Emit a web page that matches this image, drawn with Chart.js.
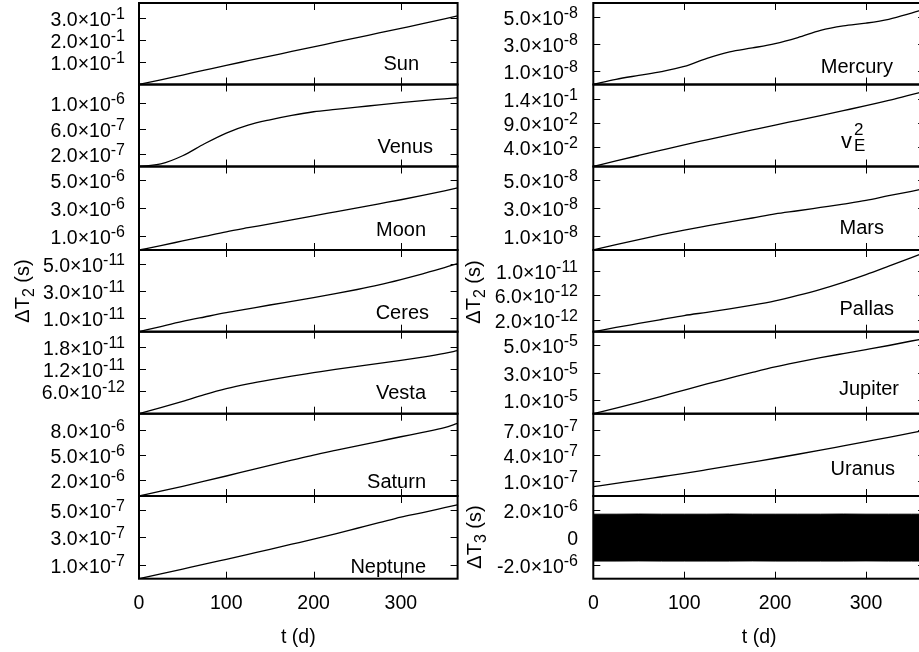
<!DOCTYPE html>
<html>
<head>
<meta charset="utf-8">
<script src="https://cdn.jsdelivr.net/npm/chart.js@4.4.0/dist/chart.umd.min.js"></script>
<style>
  html, body { margin: 0; padding: 0; background: #fff; width: 919px; height: 652px; overflow: hidden; position: relative; }
  canvas { position: absolute; }
</style>
</head>
<body>
<script>
// DATA (t in days, delta T in seconds)
const days = [0, 25, 50, 75, 100, 125, 150, 175, 200, 225, 250, 275, 300, 325, 350, 365];
const dayTicks = [0, 100, 200, 300];

const sunVals     = [0, 0.021, 0.043, 0.065, 0.087, 0.108, 0.129, 0.150, 0.171, 0.192, 0.213, 0.234, 0.255, 0.276, 0.298, 0.312];
const venusVals   = [0, 0.04e-6, 0.17e-6, 0.36e-6, 0.53e-6, 0.655e-6, 0.74e-6, 0.81e-6, 0.868e-6, 0.905e-6, 0.94e-6, 0.978e-6, 1.013e-6, 1.045e-6, 1.073e-6, 1.09e-6];
const moonVals    = [0, 0.32e-6, 0.65e-6, 0.98e-6, 1.31e-6, 1.6e-6, 1.88e-6, 2.17e-6, 2.45e-6, 2.74e-6, 3.03e-6, 3.32e-6, 3.61e-6, 3.92e-6, 4.25e-6, 4.46e-6];
const ceresVals   = [0, 0.38e-11, 0.75e-11, 1.08e-11, 1.4e-11, 1.68e-11, 1.96e-11, 2.23e-11, 2.5e-11, 2.79e-11, 3.1e-11, 3.44e-11, 3.83e-11, 4.25e-11, 4.7e-11, 5.0e-11];
const vestaVals   = [0, 1.6e-12, 3.3e-12, 5.1e-12, 6.7e-12, 8.0e-12, 9.1e-12, 10.1e-12, 11.0e-12, 11.9e-12, 12.7e-12, 13.5e-12, 14.3e-12, 15.2e-12, 16.2e-12, 16.9e-12];
const saturnVals  = [0, 0.58e-6, 1.18e-6, 1.8e-6, 2.43e-6, 3.07e-6, 3.71e-6, 4.35e-6, 4.98e-6, 5.55e-6, 6.1e-6, 6.65e-6, 7.2e-6, 7.73e-6, 8.3e-6, 8.83e-6];
const neptuneVals = [0, 0.35e-7, 0.7e-7, 1.05e-7, 1.41e-7, 1.77e-7, 2.13e-7, 2.5e-7, 2.87e-7, 3.26e-7, 3.66e-7, 4.06e-7, 4.47e-7, 4.8e-7, 5.15e-7, 5.36e-7];
const mercuryVals = [0, 0.38e-8, 0.67e-8, 0.95e-8, 1.33e-8, 1.93e-8, 2.4e-8, 2.69e-8, 3.01e-8, 3.46e-8, 3.99e-8, 4.32e-8, 4.52e-8, 4.8e-8, 5.25e-8, 5.55e-8];
const vE2Vals     = [0, 1.15e-2, 2.28e-2, 3.4e-2, 4.5e-2, 5.53e-2, 6.55e-2, 7.58e-2, 8.6e-2, 9.58e-2, 10.57e-2, 11.58e-2, 12.6e-2, 13.7e-2, 14.9e-2, 15.6e-2];
const marsVals    = [0, 0.38e-8, 0.75e-8, 1.1e-8, 1.43e-8, 1.73e-8, 2.02e-8, 2.3e-8, 2.59e-8, 2.82e-8, 3.06e-8, 3.3e-8, 3.56e-8, 3.9e-8, 4.22e-8, 4.42e-8];
const pallasVals  = [0, 0.7e-12, 1.35e-12, 2.0e-12, 2.65e-12, 3.18e-12, 3.73e-12, 4.35e-12, 5.06e-12, 5.95e-12, 6.95e-12, 8.1e-12, 9.37e-12, 10.75e-12, 12.15e-12, 13.0e-12];
const jupiterVals = [0, 0.4e-5, 0.82e-5, 1.27e-5, 1.73e-5, 2.18e-5, 2.6e-5, 3.02e-5, 3.42e-5, 3.77e-5, 4.1e-5, 4.4e-5, 4.69e-5, 4.99e-5, 5.32e-5, 5.5e-5];
const uranusVals  = [0.33e-7, 0.72e-7, 1.1e-7, 1.5e-7, 1.9e-7, 2.33e-7, 2.77e-7, 3.22e-7, 3.67e-7, 4.14e-7, 4.62e-7, 5.12e-7, 5.62e-7, 6.12e-7, 6.64e-7, 6.95e-7];
// ΔT3 oscillates too fast to resolve: upper / lower envelope of the band
const dT3Upper = [1.68e-6, 1.68e-6, 1.69e-6, 1.68e-6, 1.68e-6, 1.68e-6, 1.69e-6, 1.68e-6, 1.68e-6, 1.68e-6, 1.68e-6, 1.69e-6, 1.68e-6, 1.68e-6, 1.68e-6, 1.68e-6];
const dT3Lower = [-1.72e-6, -1.72e-6, -1.71e-6, -1.72e-6, -1.72e-6, -1.72e-6, -1.72e-6, -1.71e-6, -1.72e-6, -1.72e-6, -1.72e-6, -1.72e-6, -1.71e-6, -1.72e-6, -1.72e-6, -1.72e-6];

// y ranges and tick values
const sunRange = [0, 0.37],          sunTicks = [0.1, 0.2, 0.3];
const venusRange = [0, 1.3e-6],      venusTicks = [2e-7, 6e-7, 1e-6];
const moonRange = [0, 6e-6],         moonTicks = [1e-6, 3e-6, 5e-6];
const ceresRange = [0, 6e-11],       ceresTicks = [1e-11, 3e-11, 5e-11];
const vestaRange = [0, 2.2e-11],     vestaTicks = [6e-12, 1.2e-11, 1.8e-11];
const saturnRange = [0, 1e-5],       saturnTicks = [2e-6, 5e-6, 8e-6];
const neptuneRange = [0, 6e-7],      neptuneTicks = [1e-7, 3e-7, 5e-7];
const mercuryRange = [0, 6e-8],      mercuryTicks = [1e-8, 3e-8, 5e-8];
const vE2Range = [0, 0.17],          vE2Ticks = [0.04, 0.09, 0.14];
const marsRange = [0, 6e-8],         marsTicks = [1e-8, 3e-8, 5e-8];
const pallasRange = [0, 1.34e-11],   pallasTicks = [2e-12, 6e-12, 1e-11];
const jupiterRange = [0, 6e-5],      jupiterTicks = [1e-5, 3e-5, 5e-5];
const uranusRange = [-0.76e-7, 8.9e-7], uranusTicks = [1e-7, 4e-7, 7e-7];
const dT3Range = [-3e-6, 3e-6],      dT3Ticks = [-2e-6, 0, 2e-6];

// LAYOUT
const FONT = '"Liberation Sans", Arial, Helvetica, sans-serif';
const BIG = 19.5, SMALL = 16, LABEL = 20;
const rowEdges = [3, 84.5, 166.5, 250, 331.7, 413.7, 496, 578.7];
const cols = [
  { left: 139,   right: 457.6, cx: 0,   cw: 470, tickRight: 125 },
  { left: 593.3, right: 925.1, cx: 460, cw: 475, tickRight: 578 }
];

const panels = [
  { col: 0, row: 0, vals: sunVals,     range: sunRange,     ticks: sunTicks,     label: [{ t: 'Sun' }],     lx: 419, ly: 69.7 },
  { col: 0, row: 1, vals: venusVals,   range: venusRange,   ticks: venusTicks,   label: [{ t: 'Venus' }],   lx: 433, ly: 152.7 },
  { col: 0, row: 2, vals: moonVals,    range: moonRange,    ticks: moonTicks,    label: [{ t: 'Moon' }],    lx: 426, ly: 236 },
  { col: 0, row: 3, vals: ceresVals,   range: ceresRange,   ticks: ceresTicks,   label: [{ t: 'Ceres' }],   lx: 429, ly: 318.7,
    title: { parts: [{ t: 'ΔT' }, { t: '2', size: SMALL, dy: 5 }, { t: ' (s)' }], x: 29, y: 291 } },
  { col: 0, row: 4, vals: vestaVals,   range: vestaRange,   ticks: vestaTicks,   label: [{ t: 'Vesta' }],   lx: 426, ly: 398.7 },
  { col: 0, row: 5, vals: saturnVals,  range: saturnRange,  ticks: saturnTicks,  label: [{ t: 'Saturn' }],  lx: 426, ly: 488 },
  { col: 0, row: 6, vals: neptuneVals, range: neptuneRange, ticks: neptuneTicks, label: [{ t: 'Neptune' }], lx: 426, ly: 572.5 },
  { col: 1, row: 0, vals: mercuryVals, range: mercuryRange, ticks: mercuryTicks, label: [{ t: 'Mercury' }], lx: 893, ly: 72.5 },
  { col: 1, row: 1, vals: vE2Vals,     range: vE2Range,     ticks: vE2Ticks,     vE: true },
  { col: 1, row: 2, vals: marsVals,    range: marsRange,    ticks: marsTicks,    label: [{ t: 'Mars' }],    lx: 884, ly: 234 },
  { col: 1, row: 3, vals: pallasVals,  range: pallasRange,  ticks: pallasTicks,  label: [{ t: 'Pallas' }],  lx: 894, ly: 314.5,
    title: { parts: [{ t: 'ΔT' }, { t: '2', size: SMALL, dy: 5 }, { t: ' (s)' }], x: 480, y: 292 } },
  { col: 1, row: 4, vals: jupiterVals, range: jupiterRange, ticks: jupiterTicks, label: [{ t: 'Jupiter' }], lx: 899, ly: 394.5 },
  { col: 1, row: 5, vals: uranusVals,  range: uranusRange,  ticks: uranusTicks,  label: [{ t: 'Uranus' }],  lx: 895, ly: 474.5 },
  { col: 1, row: 6, upper: dT3Upper, lower: dT3Lower, range: dT3Range, ticks: dT3Ticks,
    title: { parts: [{ t: 'ΔT' }, { t: '3', size: SMALL, dy: 5 }, { t: ' (s)' }], x: 481, y: 537 } }
];

// rich text helpers (super/subscripts)
function partsWidth(ctx, parts, size) {
  let w = 0;
  parts.forEach(p => { ctx.font = (p.size || size) + 'px ' + FONT; w += ctx.measureText(p.t).width; });
  return w;
}
function drawParts(ctx, parts, x, y, align, size) {
  const w = partsWidth(ctx, parts, size);
  let cx = align === 'right' ? x - w : align === 'center' ? x - w / 2 : x;
  ctx.textAlign = 'left';
  ctx.textBaseline = 'alphabetic';
  parts.forEach(p => {
    ctx.font = (p.size || size) + 'px ' + FONT;
    ctx.fillText(p.t, cx, y + (p.dy || 0));
    cx += ctx.measureText(p.t).width;
  });
}
function tickParts(v) {
  if (v === 0) return [{ t: '0' }];
  const [m, e] = v.toExponential(1).split('e');
  return [{ t: m + '×10' }, { t: String(Number(e)), size: SMALL, dy: -7 }];
}

function framePlugin(p, offX, offY) {
  const col = cols[p.col];
  return {
    id: 'frame',
    afterDraw(chart) {
      const { ctx, chartArea: a } = chart;
      const xs = chart.scales.x, ys = chart.scales.y;
      ctx.save();
      ctx.strokeStyle = '#000';
      ctx.fillStyle = '#000';
      ctx.lineWidth = 1;
      ctx.beginPath();
      dayTicks.forEach(d => {
        const px = Math.round(xs.getPixelForValue(d)) + 0.5;
        ctx.moveTo(px, a.top); ctx.lineTo(px, a.top + 7);
        ctx.moveTo(px, a.bottom); ctx.lineTo(px, a.bottom - 7);
      });
      p.ticks.forEach(v => {
        const py = Math.round(ys.getPixelForValue(v)) + 0.5;
        ctx.moveTo(a.left, py); ctx.lineTo(a.left + 7, py);
        ctx.moveTo(a.right, py); ctx.lineTo(a.right - 7, py);
      });
      ctx.stroke();
      ctx.lineWidth = 2;
      ctx.strokeRect(a.left, a.top, a.right - a.left, a.bottom - a.top);

      // y tick labels
      p.ticks.forEach(v => {
        const py = ys.getPixelForValue(v);
        drawParts(ctx, tickParts(v), col.tickRight - offX, py + 8, 'right', BIG);
      });
      // x tick labels + title on the bottom row
      if (p.row === 6) {
        dayTicks.forEach(d => {
          drawParts(ctx, [{ t: String(d) }], xs.getPixelForValue(d), 609 - offY, 'center', BIG);
        });
        drawParts(ctx, [{ t: 't (d)' }], (a.left + a.right) / 2, 643 - offY, 'center', BIG);
      }
      // panel key
      if (p.label) drawParts(ctx, p.label, p.lx - offX, p.ly - offY, 'right', LABEL);
      if (p.vE) {
        drawParts(ctx, [{ t: 'v' }], 841 - offX, 147.5 - offY, 'left', 22);
        drawParts(ctx, [{ t: '2' }], 854 - offX, 134.5 - offY, 'left', 17);
        drawParts(ctx, [{ t: 'E' }], 854 - offX, 151 - offY, 'left', 17);
      }
      // rotated axis title
      if (p.title) {
        ctx.save();
        ctx.translate(p.title.x - offX, p.title.y - offY);
        ctx.rotate(-Math.PI / 2);
        drawParts(ctx, p.title.parts, 0, 0, 'center', LABEL);
        ctx.restore();
      }
      ctx.restore();
    }
  };
}

panels.forEach(p => {
  const col = cols[p.col];
  const top = rowEdges[p.row], bot = rowEdges[p.row + 1];
  const cTop = Math.floor(top - 22);
  const cBot = p.row === 6 ? 652 : Math.ceil(bot + 22);
  const c = document.createElement('canvas');
  c.width = col.cw; c.height = cBot - cTop;
  c.style.left = col.cx + 'px'; c.style.top = cTop + 'px';
  c.style.width = col.cw + 'px'; c.style.height = (cBot - cTop) + 'px';
  document.body.appendChild(c);

  let datasets;
  if (p.upper) {
    datasets = [
      { data: days.map((d, i) => ({ x: d, y: p.upper[i] })), borderColor: '#000', borderWidth: 1,
        backgroundColor: '#000', fill: '+1', pointRadius: 0 },
      { data: days.map((d, i) => ({ x: d, y: p.lower[i] })), borderColor: '#000', borderWidth: 1,
        fill: false, pointRadius: 0 }
    ];
  } else {
    datasets = [{ data: days.map((d, i) => ({ x: d, y: p.vals[i] })), borderColor: '#000', borderWidth: 1.3,
      fill: false, pointRadius: 0, cubicInterpolationMode: 'monotone' }];
  }

  new Chart(c, {
    type: 'line',
    data: { datasets },
    options: {
      responsive: false,
      animation: false,
      devicePixelRatio: 1,
      layout: { padding: { left: col.left - col.cx, right: col.cx + col.cw - col.right, top: top - cTop, bottom: cBot - bot } },
      plugins: { legend: { display: false }, tooltip: { enabled: false } },
      scales: {
        x: { type: 'linear', min: 0, max: 365, display: false },
        y: { type: 'linear', min: p.range[0], max: p.range[1], display: false }
      }
    },
    plugins: [framePlugin(p, col.cx, cTop)]
  });
});
</script>
</body>
</html>
